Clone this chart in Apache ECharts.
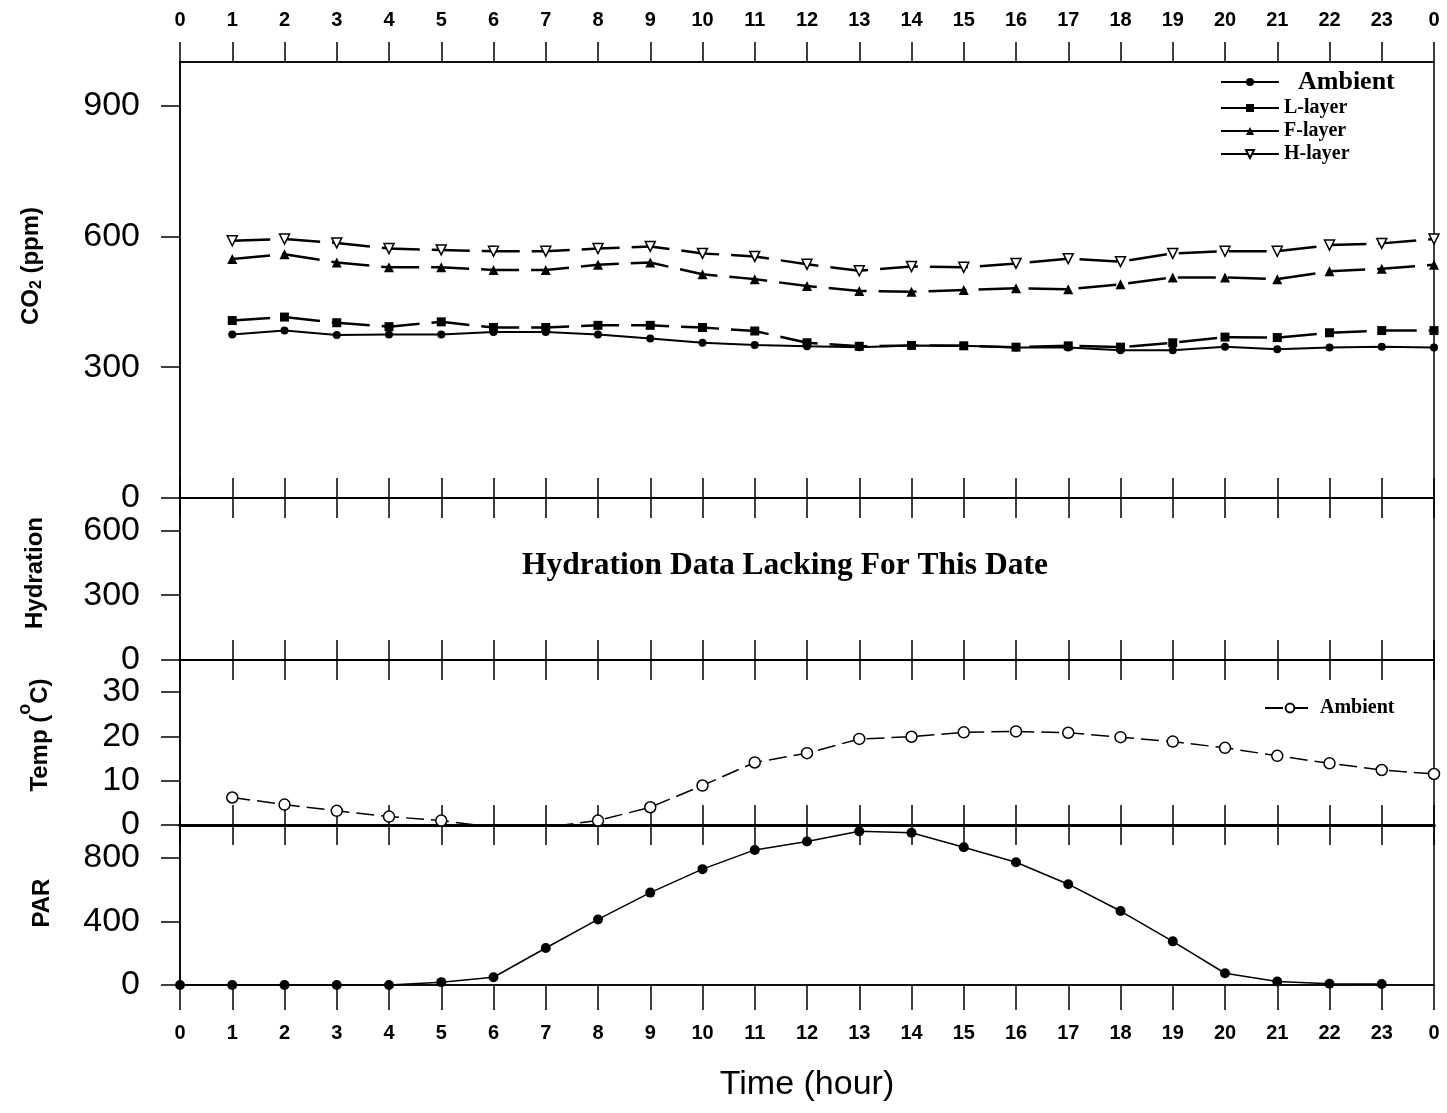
<!DOCTYPE html>
<html><head><meta charset="utf-8">
<script src="https://cdn.jsdelivr.net/npm/echarts@6/dist/echarts.min.js"></script>
<style>html,body{margin:0;padding:0;background:#fff}#c{width:1447px;height:1113px}</style>
</head><body><div id="c"></div>
<script>
// ---- data ----
const hourLabels = ['0','1','2','3','4','5','6','7','8','9','10','11','12','13','14','15','16','17','18','19','20','21','22','23','0'];
const co2Hours = [1,2,3,4,5,6,7,8,9,10,11,12,13,14,15,16,17,18,19,20,21,22,23,24];
const co2Ambient = [375,384,374,375,375,381,381,375,366,356,351,348,346,350,349,345,345,339,339,347,341,345,347,345];
const co2LLayer  = [407,415,402,393,404,391,391,396,396,391,383,356,348,350,349,346,349,346,356,369,368,379,384,384];
const co2FLayer  = [548,559,540,529,529,523,523,535,540,513,502,486,475,473,477,481,479,490,506,506,502,520,526,535];
const co2HLayer  = [590,594,585,572,569,566,566,572,577,561,554,536,521,531,529,538,549,542,561,566,566,580,584,594];
const tempHours = [1,2,3,4,5,6,7,8,9,10,11,12,13,14,15,16,17,18,19,20,21,22,23,24];
const tempAmbient = [6.2,4.6,3.2,1.9,1.0,-0.5,-0.5,1.0,4.0,8.9,14.1,16.2,19.4,19.9,20.9,21.1,20.8,19.8,18.8,17.4,15.6,13.9,12.4,11.5];
const parHours = [0,1,2,3,4,5,6,7,8,9,10,11,12,13,14,15,16,17,18,19,20,21,22,23];
const parValues = [0,0,0,0,0,18,49,233,413,582,730,851,904,968,959,868,773,635,466,275,74,22,8,6];
const co2TickLabels = [0,300,600,900];
const hydTickLabels = [0,300,600];
const tempTickLabels = [0,10,20,30];
const parTickLabels = [0,400,800];

// ---- layout ----
const SANS = 'Liberation Sans', SERIF = 'Liberation Serif';
const L = 180, W = 1254;
const panels = [
  {top: 62, height: 436},
  {top: 498, height: 162},
  {top: 660, height: 165},
  {top: 825, height: 160}
];
const pairs = (xs, ys) => xs.map((x, i) => [x, ys[i]]);

function xAx(grid, pos, opts) {
  const o = {
    type: 'value', gridIndex: grid, position: pos, min: 0, max: 24, interval: 1,
    axisLine: {show: true, onZero: false, lineStyle: {color: '#000', width: 1.5}},
    axisTick: {show: true, length: 20, lineStyle: {color: '#000', width: 1.5}},
    axisLabel: {show: false},
    splitLine: {show: false}
  };
  return Object.assign(o, opts || {});
}
const xLabel = (margin) => ({
  show: true, margin: margin, color: '#000', fontFamily: SANS, fontWeight: 'bold', fontSize: 20,
  formatter: v => hourLabels[v]
});
function yAx(grid, max, interval, labels) {
  return {
    type: 'value', gridIndex: grid, min: 0, max: max, interval: interval,
    axisLine: {show: true, lineStyle: {color: '#000', width: 1.5}},
    axisTick: {show: true, length: 19, customValues: labels, lineStyle: {color: '#000', width: 1.5}},
    axisLabel: {color: '#000', fontFamily: SANS, fontSize: 34, margin: 40, customValues: labels,
      formatter: v => labels.includes(v) ? String(v) : ''},
    splitLine: {show: false}
  };
}

const option = {
  animation: false,
  backgroundColor: '#fff',
  grid: panels.map(p => ({left: L, width: W, top: p.top, height: p.height, show: true,
    borderColor: '#000', borderWidth: 1.5, backgroundColor: 'transparent'})),
  xAxis: [
    xAx(0, 'top', {axisLabel: xLabel(32)}),
    xAx(0, 'bottom'),
    xAx(1, 'top'),
    xAx(1, 'bottom'),
    xAx(2, 'top'),
    xAx(2, 'bottom', {axisLine: {show: true, onZero: false, lineStyle: {color: '#000', width: 3}}}),
    xAx(3, 'top', {axisLine: {show: true, onZero: false, lineStyle: {color: '#000', width: 3}}}),
    xAx(3, 'bottom', {axisTick: {show: true, length: 25, lineStyle: {color: '#000', width: 1.5}},
      axisLabel: xLabel(38),
      name: 'Time (hour)', nameLocation: 'middle', nameGap: 83,
      nameTextStyle: {color: '#000', fontFamily: SANS, fontSize: 34}})
  ],
  yAxis: [
    yAx(0, 1000, 300, co2TickLabels),
    yAx(1, 750, 300, hydTickLabels),
    yAx(2, 37.2, 10, tempTickLabels),
    yAx(3, 1008, 400, parTickLabels)
  ],
  legend: [
    {
      left: 1215, top: 64, orient: 'vertical', itemWidth: 58, itemHeight: 10, itemGap: 3,
      data: [{name: 'Ambient', textStyle: {fontSize: 26, padding: [0, 0, 0, 14]}}, 'L-layer', 'F-layer', 'H-layer'],
      textStyle: {color: '#000', fontFamily: SERIF, fontWeight: 'bold', fontSize: 20},
      lineStyle: {type: 'solid', width: 2},
      selectedMode: false
    },
    {
      left: 1259, top: 693, itemWidth: 50, itemHeight: 11,
      data: ['Temp Ambient'],
      formatter: () => 'Ambient',
      textStyle: {color: '#000', fontFamily: SERIF, fontWeight: 'bold', fontSize: 20},
      selectedMode: false
    }
  ],
  graphic: [
    {type: 'text', x: 31, y: 266, rotation: Math.PI / 2, style: {
      text: 'CO{sub|2} (ppm)', fontFamily: SANS, fontWeight: 'bold', fontSize: 24, lineHeight: 28,
      fill: '#000', align: 'center', verticalAlign: 'middle',
      rich: {sub: {fontFamily: SANS, fontWeight: 'bold', fontSize: 16, lineHeight: 16, verticalAlign: 'bottom', fill: '#000'}}
    }},
    {type: 'text', x: 35, y: 573, rotation: Math.PI / 2, style: {
      text: 'Hydration', fontFamily: SANS, fontWeight: 'bold', fontSize: 24,
      fill: '#000', align: 'center', verticalAlign: 'middle'
    }},
    {type: 'text', x: 40, y: 735, rotation: Math.PI / 2, style: {
      text: 'Temp ({sup|o}C)', fontFamily: SANS, fontWeight: 'bold', fontSize: 24, lineHeight: 48,
      fill: '#000', align: 'center', verticalAlign: 'middle',
      rich: {sup: {fontFamily: SANS, fontWeight: 'bold', fontSize: 18, lineHeight: 18, verticalAlign: 'top', fill: '#000'}}
    }},
    {type: 'text', x: 42, y: 903, rotation: Math.PI / 2, style: {
      text: 'PAR', fontFamily: SANS, fontWeight: 'bold', fontSize: 24,
      fill: '#000', align: 'center', verticalAlign: 'middle'
    }},
    {type: 'text', x: 785, y: 566, style: {
      text: 'Hydration Data Lacking For This Date', fontFamily: SERIF, fontWeight: 'bold', fontSize: 31.5,
      fill: '#000', align: 'center', verticalAlign: 'middle'
    }}
  ],
  series: [
    {name: 'Ambient', type: 'line', xAxisIndex: 0, yAxisIndex: 0, data: pairs(co2Hours, co2Ambient),
      symbol: 'circle', symbolSize: 8, itemStyle: {color: '#000'},
      lineStyle: {color: '#000', width: 2}},
    {name: 'L-layer', type: 'line', xAxisIndex: 0, yAxisIndex: 0, data: pairs(co2Hours, co2LLayer),
      symbol: 'rect', symbolSize: 9, itemStyle: {color: '#000'},
      lineStyle: {color: '#000', width: 2.5, type: [38, 12]}},
    {name: 'F-layer', type: 'line', xAxisIndex: 0, yAxisIndex: 0, data: pairs(co2Hours, co2FLayer),
      symbol: 'triangle', symbolSize: 10, itemStyle: {color: '#000'},
      lineStyle: {color: '#000', width: 2.5, type: [38, 12]}},
    {name: 'H-layer', type: 'line', xAxisIndex: 0, yAxisIndex: 0, data: pairs(co2Hours, co2HLayer),
      symbol: 'triangle', symbolRotate: 180, symbolSize: 10,
      itemStyle: {color: '#fff', borderColor: '#000', borderWidth: 1.5},
      lineStyle: {color: '#000', width: 2.5, type: [38, 12]}},
    {name: 'Temp Ambient', type: 'line', xAxisIndex: 5, yAxisIndex: 2, data: pairs(tempHours, tempAmbient),
      symbol: 'circle', symbolSize: 11, clip: true,
      itemStyle: {color: '#fff', borderColor: '#000', borderWidth: 1.5},
      lineStyle: {color: '#000', width: 1.5, type: [18, 7]}},
    {name: 'PAR', type: 'line', xAxisIndex: 7, yAxisIndex: 3, data: pairs(parHours, parValues),
      symbol: 'circle', symbolSize: 10, itemStyle: {color: '#000'},
      lineStyle: {color: '#000', width: 1.5}}
  ]
};
echarts.init(document.getElementById('c'), null, {renderer: 'canvas'}).setOption(option);
</script></body></html>
